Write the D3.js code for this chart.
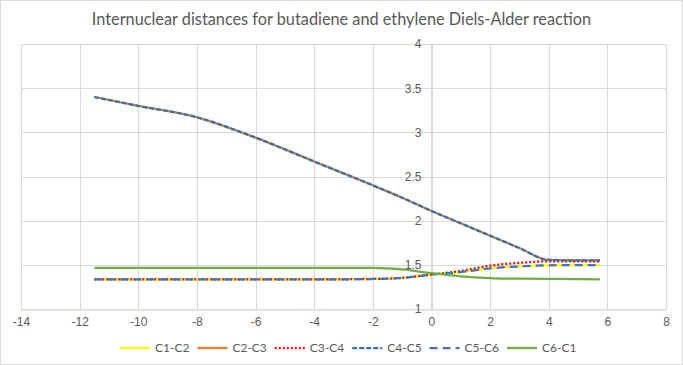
<!DOCTYPE html>
<html>
<head>
<meta charset="utf-8">
<script src="https://cdn.jsdelivr.net/npm/d3@7"></script>
<style>
  body { margin: 0; background: #fff; }
  svg { display: block; font-family: Lato, "Open Sans", sans-serif; }
</style>
</head>
<body>
<div id="chart"></div>
<script>
// reaction coordinate
const xs = [-11.5, -10, -8, -6, -4, -2, -1, 0, 1, 2, 3, 4, 5, 5.75];

const c1c2 = [1.335, 1.335, 1.335, 1.335, 1.335, 1.34, 1.352, 1.39, 1.418, 1.46, 1.482, 1.495, 1.497, 1.497];
const c2c3 = [3.40, 3.30, 3.17, 2.94, 2.67, 2.40, 2.26, 2.11, 1.97, 1.83, 1.69, 1.555, 1.55, 1.55];
const c3c4 = [1.335, 1.335, 1.335, 1.335, 1.335, 1.34, 1.352, 1.39, 1.43, 1.49, 1.522, 1.54, 1.54, 1.54];
const c4c5 = [3.40, 3.30, 3.17, 2.94, 2.67, 2.40, 2.26, 2.11, 1.97, 1.83, 1.69, 1.555, 1.55, 1.55];
const c5c6 = [1.335, 1.335, 1.335, 1.335, 1.335, 1.34, 1.352, 1.39, 1.418, 1.46, 1.482, 1.495, 1.497, 1.497];
const c6c1 = [1.466, 1.466, 1.466, 1.466, 1.466, 1.465, 1.448, 1.405, 1.37, 1.35, 1.343, 1.34, 1.337, 1.335];

const seriesNames = ['C1-C2', 'C2-C3', 'C3-C4', 'C4-C5', 'C5-C6', 'C6-C1'];
const seriesValues = [c1c2, c2c3, c3c4, c4c5, c5c6, c6c1];

const xTicks = [-14, -12, -10, -8, -6, -4, -2, 0, 2, 4, 6, 8];
const yTicks = [1, 1.5, 2, 2.5, 3, 3.5, 4];

const title = 'Internuclear distances for butadiene and ethylene Diels-Alder reaction';

const width = 683;
const height = 365;
const margin = { top: 44, right: 17, bottom: 56, left: 21 };

const styles = [
    { color: '#FFFF00', dash: null },
    { color: '#ED7D31', dash: null },
    { color: '#FF0000', dash: '2,2' },
    { color: '#2E75B6', dash: '5,2' },
    { color: '#4472C4', dash: '8,5' },
    { color: '#70AD47', dash: null }
];

const svg = d3.select('#chart').append('svg')
    .attr('width', width)
    .attr('height', height);

svg.append('rect')
    .attr('x', 0.5).attr('y', 0.5)
    .attr('width', width - 1).attr('height', height - 1)
    .attr('fill', '#fff')
    .attr('stroke', '#D9D9D9');

const x = d3.scaleLinear()
    .domain([-14, 8])
    .range([margin.left, width - margin.right]);

const y = d3.scaleLinear()
    .domain([1, 4])
    .range([height - margin.bottom, margin.top]);

// gridlines
svg.append('g')
    .selectAll('line')
    .data(yTicks)
    .join('line')
    .attr('x1', x(-14)).attr('x2', x(8))
    .attr('y1', d => Math.round(y(d)) + 0.5)
    .attr('y2', d => Math.round(y(d)) + 0.5)
    .attr('stroke', '#D9D9D9');

svg.append('g')
    .selectAll('line')
    .data(xTicks)
    .join('line')
    .attr('x1', d => Math.round(x(d)) + 0.5)
    .attr('x2', d => Math.round(x(d)) + 0.5)
    .attr('y1', y(4)).attr('y2', y(1))
    .attr('stroke', '#D9D9D9');

// axes
const fmt = d => String(d);

const xAxis = g => g
    .attr('transform', `translate(0,${Math.round(y(1)) + 0.5})`)
    .call(d3.axisBottom(x).tickValues(xTicks).tickFormat(fmt).tickSize(0).tickPadding(8))
    .call(g => g.select('.domain').attr('stroke', '#D9D9D9'));

const yAxis = g => g
    .attr('transform', `translate(${Math.round(x(0)) + 0.5},0)`)
    .call(d3.axisLeft(y).tickValues(yTicks).tickFormat(fmt).tickSize(0).tickPadding(10))
    .call(g => g.select('.domain').attr('stroke', '#D9D9D9').attr('stroke-width', 2));

svg.append('g').call(xAxis);
svg.append('g').call(yAxis);

svg.selectAll('.tick text')
    .attr('fill', '#595959')
    .style('font-size', '12px');

// series
const line = d3.line()
    .x((d, i) => x(xs[i]))
    .y(d => y(d))
    .curve(d3.curveMonotoneX);

svg.append('g')
    .selectAll('path')
    .data(seriesValues)
    .join('path')
    .attr('fill', 'none')
    .attr('stroke', (d, i) => styles[i].color)
    .attr('stroke-width', 2.25)
    .attr('stroke-dasharray', (d, i) => styles[i].dash)
    .attr('d', line);

// title
svg.append('text')
    .attr('x', width / 2)
    .attr('y', 25)
    .attr('text-anchor', 'middle')
    .attr('fill', '#595959')
    .style('font-size', '16.3px')
    .text(title);

// legend
const legend = svg.append('g')
    .attr('transform', 'translate(120,348)');

const item = legend.selectAll('g')
    .data(seriesNames)
    .join('g')
    .attr('transform', (d, i) => `translate(${i * 77.4},0)`);

item.append('line')
    .attr('x1', 0).attr('x2', 30)
    .attr('stroke', (d, i) => styles[i].color)
    .attr('stroke-width', 2.25)
    .attr('stroke-dasharray', (d, i) => styles[i].dash);

item.append('text')
    .attr('x', 35)
    .attr('dy', '0.35em')
    .attr('fill', '#595959')
    .style('font-size', '12px')
    .text(d => d);
</script>
</body>
</html>
